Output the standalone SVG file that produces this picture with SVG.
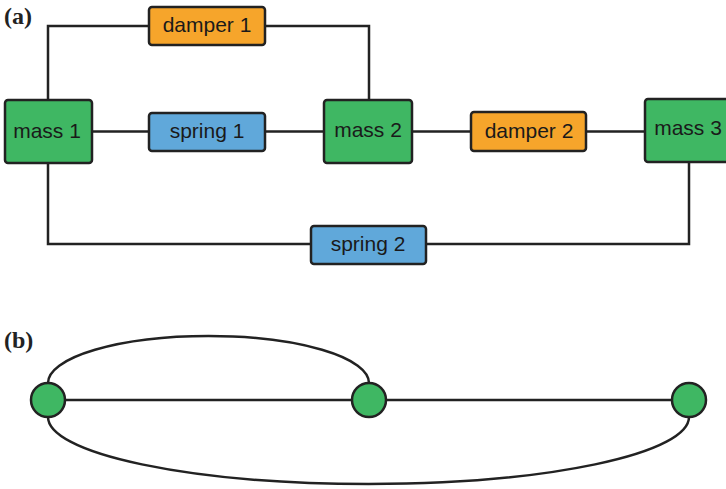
<svg xmlns="http://www.w3.org/2000/svg" width="726" height="489" viewBox="0 0 726 489">
  <style>
    .wire { fill: none; stroke: #222; stroke-width: 2.5; }
    .box { stroke: #222; stroke-width: 2.5; }
    .mass { fill: #3fb763; }
    .damper { fill: #f6a52b; }
    .spring { fill: #60a8da; }
    .lbl { font-family: "Liberation Sans", Arial, sans-serif; font-size: 21px; fill: #1a1a1a; text-anchor: middle; }
    .panel { font-family: "Liberation Serif", "Times New Roman", serif; font-weight: bold; font-size: 24px; fill: #222; }
    .vertex { fill: #3fb763; stroke: #222; stroke-width: 2.5; }
  </style>
  <rect width="726" height="489" fill="#fff"/>

  <!-- panel (a): mechanical network -->
  <text class="panel" x="4" y="24">(a)</text>

  <g id="connectors-a">
    <path class="wire" d="M48,100 V26 H149"/>
    <path class="wire" d="M265,26 H369 V100"/>
    <path class="wire" d="M92,131.5 H149"/>
    <path class="wire" d="M265,131.5 H324"/>
    <path class="wire" d="M412,131.5 H471"/>
    <path class="wire" d="M586,131.5 H645"/>
    <path class="wire" d="M48,163 V244 H311"/>
    <path class="wire" d="M426,244 H689 V162"/>
  </g>

  <g id="damper1">
    <rect class="box damper" x="149" y="7" width="116" height="38" rx="3"/>
    <text class="lbl" x="207" y="32">damper 1</text>
  </g>
  <g id="mass1">
    <rect class="box mass" x="5" y="100" width="87" height="63" rx="3"/>
    <text class="lbl" x="47" y="138">mass 1</text>
  </g>
  <g id="spring1">
    <rect class="box spring" x="149" y="113" width="116" height="38" rx="3"/>
    <text class="lbl" x="207" y="138">spring 1</text>
  </g>
  <g id="mass2">
    <rect class="box mass" x="324" y="100" width="88" height="63" rx="3"/>
    <text class="lbl" x="368" y="137">mass 2</text>
  </g>
  <g id="damper2">
    <rect class="box damper" x="471" y="112" width="115" height="39" rx="3"/>
    <text class="lbl" x="529" y="138">damper 2</text>
  </g>
  <g id="mass3">
    <rect class="box mass" x="645" y="99" width="88" height="63" rx="3"/>
    <text class="lbl" x="688" y="135">mass 3</text>
  </g>
  <g id="spring2">
    <rect class="box spring" x="311" y="226" width="115" height="38" rx="3"/>
    <text class="lbl" x="368" y="251">spring 2</text>
  </g>

  <!-- panel (b): graph of the network -->
  <text class="panel" x="4" y="348">(b)</text>

  <g id="connectors-b">
    <path class="wire" d="M48,383 A160.5,47 0 0 1 369,383"/>
    <path class="wire" d="M48,400 H689"/>
    <path class="wire" d="M48,417 A320.5,67 0 0 0 689,417"/>
  </g>

  <g id="v1"><circle class="vertex" cx="48" cy="400" r="17"/></g>
  <g id="v2"><circle class="vertex" cx="369" cy="400" r="17"/></g>
  <g id="v3"><circle class="vertex" cx="689" cy="400" r="17"/></g>
</svg>
